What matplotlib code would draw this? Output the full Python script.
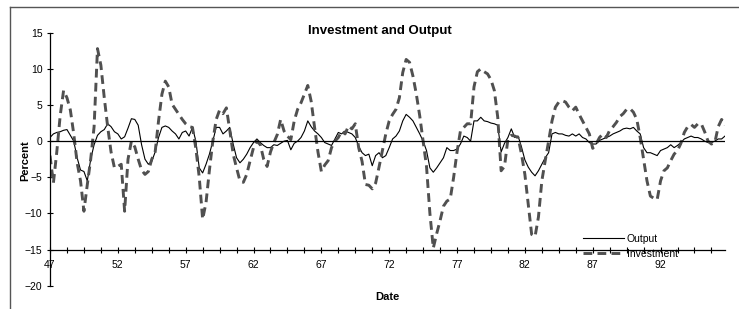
import matplotlib
matplotlib.use('Agg')
import matplotlib.pyplot as plt
from matplotlib.lines import Line2D
import numpy as np

plt.rcParams['font.family'] = ['Liberation Sans', 'DejaVu Sans']

# quarterly percent deviations, 1947Q1 - 1996Q4
investment = [
    -2.0, -5.8, -1.5, 3.5, 7.0, 6.0, 4.3, 1.0, -3.0, -5.5,
    -9.7, -6.0, -2.5, 2.0, 12.8, 10.5, 6.0, 2.0, -1.5, -3.7,
    -3.5, -3.2, -9.7, -2.5, 0.0, -0.8, -2.5, -4.0, -4.6, -4.2,
    -2.5, -1.5, 2.8, 6.5, 8.3, 7.5, 5.1, 4.4, 3.7, 3.0,
    2.4, 2.0, 1.9, -1.0, -5.0, -10.8, -8.5, -4.0, 0.0, 3.0,
    4.3, 3.8, 4.6, 1.5, -1.8, -3.7, -5.5, -5.7, -4.6, -2.7,
    -0.9, 0.0, -0.5, -2.5, -3.5, -1.5, -0.2, 0.9, 3.0, 1.4,
    0.7, 0.2, 2.8, 4.4, 5.3, 6.5, 7.7, 5.5, 1.9, -1.5,
    -4.2, -3.3, -2.7, -0.9, 0.0, 0.5, 1.4, 1.0, 2.1, 1.7,
    2.4, -0.9, -2.8, -6.0, -6.1, -6.6, -5.8, -3.6, -1.3, 1.0,
    2.8, 3.7, 4.4, 6.0, 9.5, 11.3, 10.9, 9.0, 6.5, 3.5,
    0.0, -3.5, -10.0, -14.8, -12.8, -11.0, -9.0, -8.3, -8.0, -5.0,
    -1.5, 1.4, 1.9, 2.4, 2.4, 7.5, 9.6, 10.0, 9.6, 9.3,
    8.5, 7.0, 3.3, -4.1, -3.5, 0.3, 0.8, 0.7, 0.5, -1.8,
    -4.6, -8.8, -12.9, -13.2, -10.5, -5.5, -2.7, 0.0, 2.8, 4.7,
    5.4, 5.6, 5.4, 4.7, 4.2, 4.7, 3.7, 2.8, 1.9, 1.0,
    -1.0, -0.4, 0.5, 1.0, 0.5, 1.5, 2.0, 2.6, 3.4, 3.8,
    4.4, 4.5, 4.0, 3.0, 0.5, -2.5, -5.5, -7.6, -7.9, -8.1,
    -5.5, -4.1, -3.7, -2.7, -1.8, -1.3, -0.3, 1.2, 2.0, 2.3,
    1.9, 2.4, 2.4, 1.3, 0.0, -0.4, -0.2, 2.0, 3.0, 2.2,
]
output = [
    0.5, 1.0, 1.2, 1.3, 1.5, 1.6, 0.8, 0.0, -2.3, -4.0,
    -4.2, -5.5, -2.5, -0.5, 0.8, 1.3, 1.6, 2.4, 2.0, 1.3,
    1.0, 0.3, 0.6, 1.8, 3.1, 3.0, 2.2, -0.5, -2.5, -3.2,
    -2.8, -1.5, 0.5, 1.9, 2.1, 1.9, 1.4, 1.0, 0.3, 1.2,
    1.4, 0.7, 1.9, 0.0, -3.7, -4.4, -3.2, -1.8, 0.0, 1.9,
    1.9, 1.0, 1.4, 1.9, -0.4, -2.3, -3.0, -2.5, -1.8, -0.9,
    -0.2, 0.3, -0.2, -0.6, -0.9, -0.9, -0.5, -0.6, -0.3, 0.0,
    0.1, -1.2, -0.3, 0.0, 0.5, 1.4, 2.8, 2.0, 1.4, 1.0,
    0.5, -0.2, -0.4, -0.6, 0.3, 1.2, 1.0, 1.4, 1.2, 1.0,
    0.5, -0.7, -1.6, -2.0, -1.8, -3.4, -2.0, -1.6, -2.3, -2.0,
    -0.9, 0.3, 0.7, 1.4, 2.8, 3.7, 3.3, 2.8, 1.9, 1.0,
    0.0, -1.3, -3.7, -4.3, -3.7, -3.0, -2.3, -0.9, -1.3, -1.3,
    -1.1, -0.4, 0.7, 0.5, 0.0, 2.8, 2.8, 3.3, 2.8, 2.7,
    2.5, 2.4, 2.2, -1.5, -0.3, 0.5, 1.7, 0.5, 0.7, -0.8,
    -2.6, -3.6, -4.3, -4.8, -4.1, -3.2, -2.3, -1.6, 1.0, 1.2,
    1.0, 1.0, 0.8, 0.7, 1.0, 0.7, 1.0, 0.5, 0.3, -0.2,
    -0.4, -0.4, 0.1, 0.3, 0.5, 0.7, 1.0, 1.2, 1.4, 1.7,
    1.8, 1.7, 1.9, 1.4, 1.0, -0.9, -1.6, -1.6, -1.8, -2.0,
    -1.3, -1.1, -0.9, -0.5, -0.9, -0.6, -0.2, 0.3, 0.5, 0.7,
    0.5, 0.5, 0.3, 0.0, -0.2, -0.2, 0.0, 0.3, 0.3, 0.7,
]
start_year = 47
x_labels = ['47', '52', '57', '62', '67', '72', '77', '82', '87', '92']

dates = start_year + np.arange(len(output)) / 4.0

fig = plt.figure(figsize=(7.39, 3.09), dpi=100)
ax = fig.add_axes([50 / 739, 1 - 285.7 / 309, 675 / 739, 253 / 309])

ax.plot(dates, output, color='black', linewidth=0.8, label='Output')
ax.plot(dates, investment, color='#505050', linewidth=2.1,
        dashes=(3.0, 1.8), label='Investment')
ax.axhline(0, color='black', linewidth=0.9)

ax.set_xlim(start_year, dates[-1])
ax.set_ylim(-20, 15)

# excel style axes: x axis crossing at -15
for side in ['top', 'right']:
    ax.spines[side].set_visible(False)
ax.spines['bottom'].set_position(('data', -15))
ax.spines['left'].set_linewidth(0.9)
ax.spines['bottom'].set_linewidth(0.9)

ax.set_yticks(np.arange(-20, 16, 5))
ax.set_xticks(np.arange(start_year, dates[-1], 1.25), minor=True)
ax.set_xticks([int(s) for s in x_labels])
ax.set_xticklabels(x_labels)
ax.tick_params(axis='both', which='both', direction='inout', length=5,
               width=0.8, labelsize=7.5, colors='black')
ax.tick_params(axis='x', pad=5)
ax.tick_params(axis='y', pad=3)

fig.text(380 / 739, 1 - 30.7 / 309, 'Investment and Output', ha='center',
         va='center', fontsize=9.5, fontweight='bold')
fig.text(25 / 739, 1 - 161 / 309, 'Percent', rotation=90, ha='center',
         va='center', fontsize=8, fontweight='bold')
fig.text(387.7 / 739, 1 - 296.7 / 309, 'Date', ha='center', va='center',
         fontsize=8, fontweight='bold')

ax.legend(loc='upper left', bbox_to_anchor=(583 / 739, 1 - 234 / 309),
          bbox_transform=fig.transFigure, frameon=False, fontsize=7.5,
          handlelength=3.9, handletextpad=0.3, labelspacing=0.45,
          borderpad=0, borderaxespad=0)

# outer chart border (left and top edges are visible)
fig.add_artist(Line2D([10 / 739, 10 / 739], [0, 1 - 7 / 309],
                      transform=fig.transFigure, color='#555555', linewidth=1.0))
fig.add_artist(Line2D([10 / 739, 1], [1 - 7 / 309, 1 - 7 / 309],
                      transform=fig.transFigure, color='#555555', linewidth=1.0))

plt.savefig('out.png', dpi=100)
